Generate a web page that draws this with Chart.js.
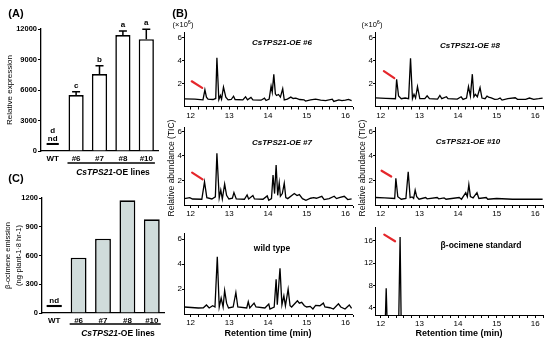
<!DOCTYPE html>
<html><head><meta charset="utf-8">
<script src="https://cdn.jsdelivr.net/npm/chart.js@4.4.1/dist/chart.umd.min.js"></script>
<style>
html,body{margin:0;padding:0;background:#fff;}
body{position:relative;width:550px;height:346px;overflow:hidden;font-family:'Liberation Sans',Arial,sans-serif;color:#000;}
canvas{position:absolute;}
.t{position:absolute;white-space:nowrap;line-height:1;transform:translate(-50%,-50%);}
.pl{font-weight:bold;font-size:11px;}
.grp{font-weight:bold;font-size:8.5px;}
.sc{font-size:7.5px;}
.sc sup{font-size:5.5px;vertical-align:3px;}
.ti{font-weight:bold;font-style:italic;font-size:8px;}
.tb{font-weight:bold;font-size:8.5px;}
.yt{position:absolute;width:110px;height:10px;line-height:10px;font-size:8.5px;text-align:center;white-space:nowrap;color:#000;transform:rotate(-90deg);}
</style></head><body>
<canvas id="cA" width="166" height="182" style="left:0;top:0"></canvas>
<canvas id="cC" width="168" height="160" style="left:0;top:186px"></canvas>
<canvas id="b6" width="190" height="100" style="left:166px;top:24px"></canvas>
<canvas id="b8" width="190" height="100" style="left:357px;top:24px"></canvas>
<canvas id="b7" width="190" height="102" style="left:166px;top:120px"></canvas>
<canvas id="b10" width="190" height="102" style="left:357px;top:120px"></canvas>
<canvas id="bwt" width="190" height="124" style="left:166px;top:222px"></canvas>
<canvas id="bst" width="190" height="124" style="left:357px;top:222px"></canvas>

<div class="t pl" style="left:16px;top:13px">(A)</div>
<div class="t pl" style="left:180px;top:13px">(B)</div>
<div class="t pl" style="left:16px;top:178px">(C)</div>
<div class="t sc" style="left:183px;top:24px">(×10<sup>6</sup>)</div>
<div class="t sc" style="left:372px;top:24px">(×10<sup>6</sup>)</div>
<div class="t grp" style="left:113px;top:172px"><i>CsTPS21</i>-OE lines</div>
<div class="t grp" style="left:118px;top:333px"><i>CsTPS21</i>-OE lines</div>
<div class="t ti" style="left:282px;top:43px">CsTPS21-OE #6</div>
<div class="t ti" style="left:470px;top:46px">CsTPS21-OE #8</div>
<div class="t ti" style="left:282px;top:143px">CsTPS21-OE #7</div>
<div class="t ti" style="left:468px;top:142px">CsTPS21-OE #10</div>
<div class="t tb" style="left:272px;top:248px">wild type</div>
<div class="t tb" style="left:481px;top:245px">β-ocimene standard</div>
<div class="yt" style="left:116px;top:163px">Relative abundance (TIC)</div>
<div class="yt" style="left:307px;top:163px">Relative abundance (TIC)</div>

<script>
// ---------- data ----------
const lines = ['WT', '#6', '#7', '#8', '#10'];
const relExpression = [null, 5500, 7570, 11400, 11000];
const relExpressionErr = [null, 330, 820, 400, 970];
const expressionLetters = ['d', 'c', 'b', 'a', 'a'];
const ndExpression = [[590, 790], null, null, null, null];
const expressionTicks = [0, 3000, 6000, 9000, 12000];

const ocimeneEmission = [null, 577, 775, 1176, 978];
const ndEmission = [[62, 84], null, null, null, null];
const emissionTicks = [0, 300, 600, 900, 1200];
const ndLabel = 'nd';

const retentionTicks = [12, 12.2, 12.4, 12.6, 12.8, 13, 13.2, 13.4, 13.6, 13.8, 14, 14.2, 14.4, 14.6, 14.8, 15, 15.2, 15.4, 15.6, 15.8, 16, 16.2];
const retentionLabels = [12, 13, 14, 15, 16];
const abundanceTicks = [2, 4, 6];
const standardTicks = [4, 8, 12, 16];

const traceOE6 = [[11.84,0.67],[12.11,0.64],[12.32,0.58],[12.37,1.46],[12.41,0.82],[12.45,0.64],[12.58,0.61],[12.65,0.70],[12.68,4.26],[12.73,0.61],[12.77,0.96],[12.80,0.64],[12.85,1.69],[12.91,0.82],[12.97,0.58],[13.05,0.61],[13.11,0.90],[13.15,0.61],[13.35,0.58],[13.42,0.85],[13.47,0.58],[13.56,0.79],[13.61,0.58],[13.82,0.55],[13.91,0.73],[13.95,0.52],[14.03,0.64],[14.08,1.78],[14.11,1.25],[14.15,2.80],[14.19,1.11],[14.22,0.96],[14.27,1.05],[14.32,0.82],[14.38,1.55],[14.42,0.58],[14.50,0.64],[14.59,0.82],[14.65,0.70],[14.72,0.73],[14.82,0.61],[14.93,0.58],[14.97,0.47],[15.10,0.58],[15.23,0.64],[15.36,0.55],[15.49,0.52],[15.66,0.64],[15.70,0.44],[15.83,0.58],[15.91,0.52],[16.00,0.55],[16.08,0.62],[16.16,0.52]];
const traceOE8 = [[11.86,0.76],[12.13,0.71],[12.38,0.68],[12.41,2.38],[12.46,0.91],[12.53,0.68],[12.63,0.74],[12.72,0.68],[12.77,4.21],[12.82,0.68],[12.86,1.06],[12.90,0.74],[12.95,1.74],[13.01,0.68],[13.14,0.68],[13.20,0.94],[13.26,0.68],[13.47,0.65],[13.53,0.97],[13.58,0.68],[13.70,0.85],[13.74,0.68],[13.98,0.65],[14.08,0.85],[14.13,0.62],[14.22,0.74],[14.27,1.74],[14.32,0.91],[14.37,2.82],[14.41,0.85],[14.45,1.06],[14.50,0.85],[14.57,1.65],[14.62,0.74],[14.70,0.68],[14.75,0.91],[14.79,0.82],[14.86,0.76],[14.95,0.62],[15.03,0.65],[15.09,0.74],[15.14,0.56],[15.29,0.68],[15.48,0.76],[15.54,0.62],[15.75,0.62],[15.85,0.74],[15.96,0.62],[16.09,0.68],[16.19,0.74]];
const traceOE7 = [[11.84,0.52],[11.98,0.60],[12.05,0.49],[12.29,0.47],[12.36,1.89],[12.42,0.60],[12.55,0.49],[12.64,0.66],[12.68,4.22],[12.74,0.58],[12.78,1.21],[12.82,0.49],[12.88,1.70],[12.93,0.79],[12.99,0.49],[13.08,0.55],[13.12,1.01],[13.18,0.49],[13.39,0.47],[13.46,0.82],[13.50,0.49],[13.61,0.77],[13.65,0.49],[13.87,0.47],[13.98,0.74],[14.02,0.38],[14.09,0.52],[14.13,2.44],[14.17,0.93],[14.21,3.26],[14.25,0.79],[14.29,1.81],[14.32,0.71],[14.37,0.93],[14.42,1.78],[14.46,0.60],[14.51,0.52],[14.68,0.93],[14.75,0.77],[14.81,0.85],[14.89,0.52],[14.98,0.38],[15.10,0.55],[15.18,0.60],[15.25,0.55],[15.39,0.71],[15.45,0.44],[15.58,0.52],[15.71,0.71],[15.77,0.52],[15.84,0.60],[15.97,0.71],[16.06,0.44],[16.16,0.50]];
const traceOE10 = [[11.86,0.61],[12.10,0.58],[12.36,0.53],[12.39,2.18],[12.44,0.68],[12.53,0.47],[12.65,0.53],[12.71,2.71],[12.76,0.61],[12.81,0.66],[12.85,0.53],[12.89,1.21],[12.93,0.68],[12.99,0.47],[13.16,0.61],[13.20,0.50],[13.46,0.61],[13.50,0.50],[13.64,0.58],[13.69,0.47],[14.03,0.61],[14.09,0.47],[14.20,1.00],[14.24,0.68],[14.28,1.66],[14.32,0.68],[14.39,0.58],[14.49,1.00],[14.54,0.53],[14.73,0.61],[14.77,0.47],[15.00,0.53],[15.41,0.47],[15.75,0.47],[16.19,0.47]];
const traceWT = [[11.84,0.56],[12.20,0.48],[12.33,0.50],[12.41,0.72],[12.48,0.48],[12.57,0.66],[12.63,0.56],[12.69,4.58],[12.74,0.56],[12.79,1.27],[12.84,0.56],[12.88,1.88],[12.93,0.87],[12.98,0.48],[13.10,0.56],[13.17,1.72],[13.22,0.56],[13.45,0.48],[13.49,0.98],[13.53,0.48],[13.64,0.87],[13.69,0.56],[13.92,0.48],[14.02,0.79],[14.05,0.40],[14.16,0.56],[14.21,2.78],[14.24,0.74],[14.31,3.66],[14.36,0.74],[14.41,1.46],[14.45,0.66],[14.52,1.99],[14.57,0.66],[14.61,0.56],[14.76,1.06],[14.81,0.87],[14.87,0.93],[14.94,0.66],[15.00,0.56],[15.09,0.61],[15.16,0.40],[15.23,0.69],[15.34,0.66],[15.43,0.87],[15.47,0.56],[15.60,0.50],[15.69,0.40],[15.82,0.82],[15.88,0.56],[15.99,0.40],[16.10,0.72],[16.16,0.45]];
const traceStandard = [[11.86,0],[12.11,0],[12.14,7.5],[12.17,0],[12.46,0],[12.50,16.7],[12.53,0],[16.19,0]];

// ---------- setup ----------
Chart.defaults.font.family = "'Liberation Sans', Arial, sans-serif";
Chart.defaults.color = '#000';

const barMarks = {
  id: 'barMarks',
  afterDatasetsDraw(chart, args, o) {
    const {ctx, chartArea} = chart;
    const ys = chart.scales.y;
    const main = chart.getDatasetMeta(0), nd = chart.getDatasetMeta(1);
    const vals = chart.data.datasets[0].data, ndVals = chart.data.datasets[1].data;
    ctx.save();
    ctx.strokeStyle = '#000'; ctx.fillStyle = '#000';
    ctx.textAlign = 'center'; ctx.textBaseline = 'alphabetic';
    ctx.font = "bold 8px 'Liberation Sans', Arial, sans-serif";
    main.data.forEach((el, i) => {
      if (vals[i] == null) return;
      let top = el.y;
      if (o.errors && o.errors[i] != null) {
        const ye = ys.getPixelForValue(vals[i] + o.errors[i]);
        ctx.lineWidth = 1.5;
        ctx.beginPath();
        ctx.moveTo(el.x, el.y); ctx.lineTo(el.x, ye);
        ctx.moveTo(el.x - 4, ye); ctx.lineTo(el.x + 4, ye);
        ctx.stroke();
        top = ye;
      }
      if (o.letters) ctx.fillText(o.letters[i], el.x, top - 4);
    });
    nd.data.forEach((el, i) => {
      if (ndVals[i] == null) return;
      ctx.fillText(ndLabel, el.x, el.y - 2);
      if (o.letters) ctx.fillText(o.letters[i], el.x, el.y - 10);
    });
    const first = main.data[1], last = main.data[main.data.length - 1];
    const yb = chartArea.bottom + o.groupGap;
    ctx.lineWidth = 1.6;
    ctx.beginPath();
    ctx.moveTo(first.x - first.width / 2 - 1, yb);
    ctx.lineTo(last.x + last.width / 2 + 1, yb);
    ctx.stroke();
    ctx.restore();
  }
};

const redArrow = {
  id: 'redArrow',
  afterDatasetsDraw(chart, args, o) {
    if (!o.arrow) return;
    const xs = chart.scales.x, ys = chart.scales.y, ctx = chart.ctx;
    ctx.save();
    ctx.strokeStyle = '#e5262b'; ctx.lineWidth = 2.2; ctx.lineCap = 'round';
    ctx.beginPath();
    ctx.moveTo(xs.getPixelForValue(o.arrow[0][0]), ys.getPixelForValue(o.arrow[0][1]));
    ctx.lineTo(xs.getPixelForValue(o.arrow[1][0]), ys.getPixelForValue(o.arrow[1][1]));
    ctx.stroke();
    ctx.restore();
  }
};

function barChart(id, c) {
  return new Chart(document.getElementById(id), {
    type: 'bar',
    data: { labels: lines, datasets: [
      { data: c.values, backgroundColor: c.fill, borderColor: '#000', borderWidth: 1.6, grouped: false, categoryPercentage: 1, barPercentage: c.barPct },
      { data: c.nd, backgroundColor: '#000', borderWidth: 0, grouped: false, categoryPercentage: 1, barPercentage: c.ndPct }
    ]},
    options: {
      responsive: false, animation: false, devicePixelRatio: 1, events: [],
      layout: { padding: { top: c.pt, right: c.pr, left: 0, bottom: 0 } },
      plugins: { legend: { display: false }, tooltip: { enabled: false },
        barMarks: { errors: c.errors, letters: c.letters, groupGap: c.groupGap } },
      scales: {
        x: {
          grid: { display: true, drawOnChartArea: false, drawTicks: false, color: '#000' },
          border: { color: '#000', width: 1.3 },
          ticks: { font: { size: 8, weight: 'bold' }, padding: c.xPad },
          afterFit: s => { s.height = c.xH; }
        },
        y: {
          min: c.ticks[0], max: c.ticks[c.ticks.length - 1],
          afterBuildTicks: s => { s.ticks = c.ticks.map(v => ({ value: v })); },
          grid: { drawOnChartArea: false, tickLength: 3, color: '#000', tickWidth: 1.2 },
          border: { color: '#000', width: 1.3 },
          ticks: { font: { size: 7.5, weight: 'bold' }, padding: 1, callback: v => String(v) },
          title: { display: true, text: c.title, font: { size: c.titleSize, lineHeight: 1.45 }, padding: { top: c.titlePad, bottom: 0 } },
          afterFit: s => { s.width = c.yW; }
        }
      }
    },
    plugins: [barMarks]
  });
}

barChart('cA', { values: relExpression, nd: ndExpression, errors: relExpressionErr, letters: expressionLetters,
  ticks: expressionTicks, fill: '#ffffff', barPct: 0.65, ndPct: 0.52, pt: 29, pr: 8, xH: 31, yW: 41, xPad: 3,
  title: 'Relative expression', titleSize: 8, titlePad: 4, groupGap: 12 });
barChart('cC', { values: ocimeneEmission, nd: ndEmission, errors: null, letters: null,
  ticks: emissionTicks, fill: '#d0dcdb', barPct: 0.65, ndPct: 0.62, pt: 12, pr: 4, xH: 33, yW: 42, xPad: 3,
  title: ['β-ocimene emission', '(ng·plant-1·8 hr-1)'], titleSize: 7.5, titlePad: 2.5, groupGap: 11 });

function chrom(id, trace, c) {
  return new Chart(document.getElementById(id), {
    type: 'line',
    data: { datasets: [{ data: trace.map(p => ({ x: p[0], y: p[1] })), borderColor: '#000', borderWidth: 1.3, pointRadius: 0, tension: 0, fill: false }] },
    options: {
      responsive: false, animation: false, devicePixelRatio: 1, events: [],
      layout: { padding: { top: c.pt, right: 4, left: 0, bottom: 0 } },
      plugins: { legend: { display: false }, tooltip: { enabled: false }, redArrow: { arrow: c.arrow || null } },
      scales: {
        x: {
          type: 'linear', min: c.xMin, max: c.xMax,
          afterBuildTicks: s => { s.ticks = retentionTicks.map(v => ({ value: v })); },
          ticks: { callback: v => retentionLabels.includes(v) ? String(v) : '', font: { size: 8 }, padding: 1, maxRotation: 0, autoSkip: false },
          grid: { drawOnChartArea: false, tickLength: 3, color: '#000' },
          border: { color: '#000', width: 1 },
          title: c.xTitle ? { display: true, text: 'Retention time (min)', font: { size: 9, weight: 'bold' }, padding: { top: 0, bottom: 6.6 } } : { display: false },
          afterFit: s => { s.height = c.xH; }
        },
        y: {
          min: c.yMin, max: c.yMax,
          afterBuildTicks: s => { s.ticks = c.yTicks.map(v => ({ value: v })); },
          ticks: { font: { size: 8 }, padding: 0 },
          grid: { drawOnChartArea: false, tickLength: 2, color: '#000' },
          border: { color: '#000', width: 1 },
          afterFit: s => { s.width = 18; }
        }
      }
    },
    plugins: [redArrow]
  });
}

const leftX = { xMin: 11.83, xMax: 16.17 }, rightX = { xMin: 11.85, xMax: 16.2 };
chrom('b6', traceOE6, { ...leftX, pt: 8, xH: 17.5, yMin: 0, yMax: 6.5, yTicks: abundanceTicks, arrow: [[12.03, 2.2], [12.3, 1.63]] });
chrom('b8', traceOE8, { ...rightX, pt: 8, xH: 17.5, yMin: 0, yMax: 6.5, yTicks: abundanceTicks, arrow: [[12.08, 3.09], [12.35, 2.47]] });
chrom('b7', traceOE7, { ...leftX, pt: 7, xH: 17, yMin: 0, yMax: 6.35, yTicks: abundanceTicks, arrow: [[12.04, 2.63], [12.31, 2.08]] });
chrom('b10', traceOE10, { ...rightX, pt: 7, xH: 17, yMin: 0, yMax: 6.35, yTicks: abundanceTicks, arrow: [[12.02, 2.79], [12.27, 2.32]] });
chrom('bwt', traceWT, { ...leftX, pt: 11, xH: 32, yMin: 0, yMax: 6.48, yTicks: abundanceTicks, xTitle: true });
chrom('bst', traceStandard, { ...rightX, pt: 5, xH: 31, yMin: 2.7, yMax: 18.5, yTicks: standardTicks, xTitle: true, arrow: [[12.09, 17.13], [12.37, 15.94]] });
</script>
</body></html>
